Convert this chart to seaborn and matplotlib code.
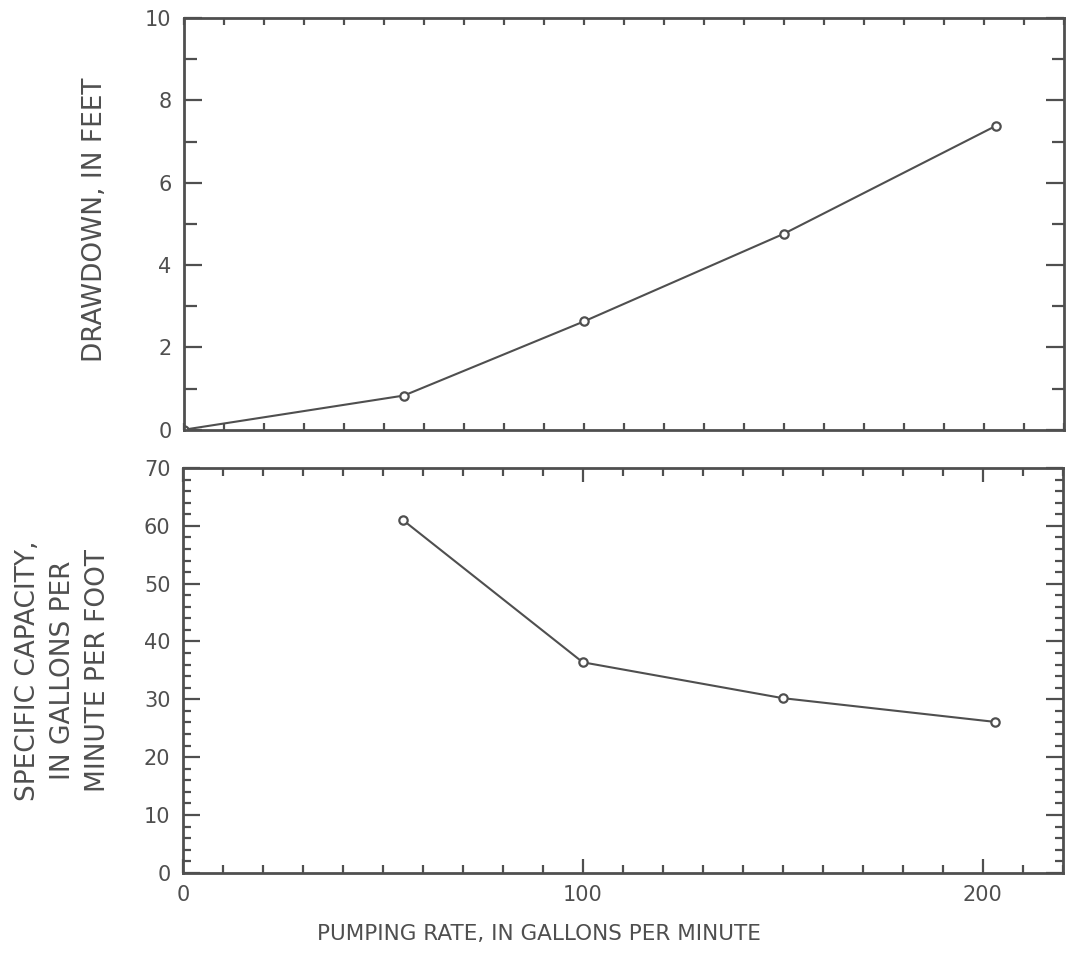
import matplotlib
matplotlib.use("Agg")
import matplotlib.pyplot as plt
from matplotlib.ticker import MultipleLocator
import seaborn as sns
import pandas as pd

# Step-drawdown test data
drawdown_rate = [0, 55, 100, 150, 203]          # gallons per minute
drawdown_ft = [0.0, 0.83, 2.63, 4.76, 7.38]    # feet

capacity_rate = [55, 100, 150, 203]            # gallons per minute
specific_capacity = [61.0, 36.4, 30.2, 26.1]   # gal/min per foot

x_ticks = [0, 100, 200]
top_y_ticks = [0, 2, 4, 6, 8, 10]
bottom_y_ticks = [0, 10, 20, 30, 40, 50, 60, 70]

sns.set_theme(style="ticks")
plt.rcParams["font.family"] = ["DejaVu Sans"]

ink = "#4f4f4f"
plt.rcParams.update({
    "axes.edgecolor": ink,
    "axes.labelcolor": ink,
    "xtick.color": ink,
    "ytick.color": ink,
    "text.color": ink,
})

fig = plt.figure(figsize=(10.7, 9.57), dpi=100)
ax_top = fig.add_axes([0.172, 0.551, 0.822, 0.430])
ax_bot = fig.add_axes([0.171, 0.088, 0.822, 0.423])

df_top = pd.DataFrame({"rate": drawdown_rate, "val": drawdown_ft})
df_bot = pd.DataFrame({"rate": capacity_rate, "val": specific_capacity})

line_kw = dict(color=ink, linewidth=1.5, marker="o", markersize=6,
               markerfacecolor="white", markeredgecolor=ink,
               markeredgewidth=1.6)

sns.lineplot(data=df_top, x="rate", y="val", ax=ax_top, **line_kw)
sns.lineplot(data=df_bot, x="rate", y="val", ax=ax_bot, **line_kw)

for ax in (ax_top, ax_bot):
    ax.set_xlim(0, 220)
    for s in ax.spines.values():
        s.set_linewidth(2.0)
        s.set_color(ink)
    ax.tick_params(which="both", direction="in", top=True, right=True,
                   width=1.6, labelsize=15, colors=ink)
    ax.xaxis.set_major_locator(MultipleLocator(100))
    ax.xaxis.set_minor_locator(MultipleLocator(10))

# Upper panel: drawdown
ax_top.set_ylim(0, 10)
ax_top.set_yticks(top_y_ticks)
ax_top.yaxis.set_minor_locator(MultipleLocator(1))
ax_top.tick_params(axis="y", which="major", length=13, pad=9)
ax_top.tick_params(axis="y", which="minor", length=9)
ax_top.tick_params(axis="x", which="both", length=5, labelbottom=False)
ax_top.set_xlabel("")
ax_top.set_ylabel("DRAWDOWN, IN FEET", fontsize=19)
ax_top.yaxis.set_label_coords(-0.086, 0.51)

# Lower panel: specific capacity
ax_bot.set_ylim(0, 70)
ax_bot.set_yticks(bottom_y_ticks)
ax_bot.yaxis.set_minor_locator(MultipleLocator(2))
ax_bot.set_xticks(x_ticks)
ax_bot.tick_params(axis="y", which="major", length=12, pad=9)
ax_bot.tick_params(axis="y", which="minor", length=6)
ax_bot.tick_params(axis="x", which="major", length=10, pad=9)
ax_bot.tick_params(axis="x", which="minor", length=6)
ax_bot.set_xlabel("PUMPING RATE, IN GALLONS PER MINUTE", fontsize=15.5)
ax_bot.xaxis.set_label_coords(0.405, -0.127)
ax_bot.set_ylabel("SPECIFIC CAPACITY,\nIN GALLONS PER\nMINUTE PER FOOT",
                  fontsize=19, linespacing=1.45)
ax_bot.yaxis.set_label_coords(-0.082, 0.5)

fig.savefig("out.png", dpi=100, facecolor="white")
